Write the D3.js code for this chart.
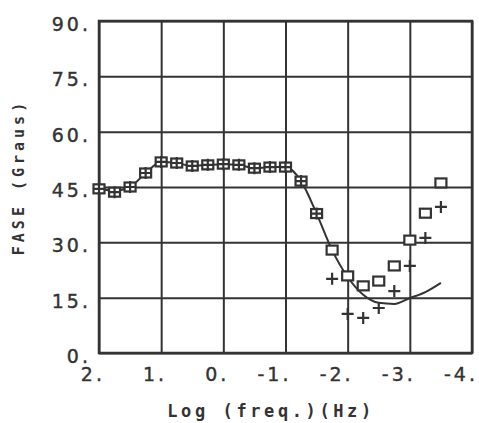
<!DOCTYPE html>
<html>
<head>
<meta charset="utf-8">
<script src="https://cdn.jsdelivr.net/npm/d3@7"></script>
<style>
  body { margin: 0; background: #fff; }
  svg { display: block; }
</style>
</head>
<body>
<script>
// log da frequencia (Hz), 4 pontos por decada
var freqs = [2, 1.75, 1.5, 1.25, 1, 0.75, 0.5, 0.25, 0, -0.25, -0.5, -0.75, -1, -1.25, -1.5, -1.75, -2, -2.25, -2.5, -2.75, -3, -3.25, -3.5];
// fase observada (quadrados)
var faseQuad = [44.5, 43.6, 45.0, 48.8, 51.8, 51.5, 50.7, 51.0, 51.2, 51.0, 50.1, 50.4, 50.4, 46.6, 37.8, 27.9, 20.9, 18.2, 19.5, 23.6, 30.6, 37.9, 46.1];
// fase observada (cruzes)
var faseCruz = [44.5, 43.6, 45.0, 48.8, 51.8, 51.5, 50.7, 51.0, 51.2, 51.0, 50.1, 50.4, 50.4, 46.6, 37.8, 20.1, 10.6, 9.5, 12.2, 16.8, 23.6, 31.2, 39.6];
// curva do modelo
var faseModelo = [44.5, 44.0, 45.0, 48.8, 51.8, 51.5, 50.7, 51.0, 51.2, 51.0, 50.1, 50.4, 50.4, 46.6, 37.8, 27.9, 20.6, 15.8, 13.6, 13.3, 14.9, 16.5, 19.0];

var xTicks = [2, 1, 0, -1, -2, -3, -4];
var yTicks = [0, 15, 30, 45, 60, 75, 90];

var W = 479, H = 423;
var ink = "#333";
var plot = {left: 99, right: 472, top: 21, bottom: 353};

var svg = d3.select("body").append("svg")
    .attr("width", W)
    .attr("height", H)
    .style("background", "#fff");

var x = d3.scaleLinear().domain([2, -4]).range([plot.left, plot.right]);
var y = d3.scaleLinear().domain([0, 90]).range([plot.bottom, plot.top]);

// grade vertical
svg.append("g")
    .attr("transform", "translate(0," + plot.bottom + ")")
    .call(d3.axisBottom(x).tickValues(xTicks).tickSize(-(plot.bottom - plot.top)).tickFormat(""))
    .call(function(g){
        g.select(".domain").remove();
        g.selectAll(".tick line").attr("stroke", ink).attr("stroke-width", 2);
    });

// grade horizontal
svg.append("g")
    .attr("transform", "translate(" + plot.left + ",0)")
    .call(d3.axisLeft(y).tickValues(yTicks).tickSize(-(plot.right - plot.left)).tickFormat(""))
    .call(function(g){
        g.select(".domain").remove();
        g.selectAll(".tick line").attr("stroke", ink).attr("stroke-width", 2);
    });

// moldura
svg.append("rect")
    .attr("x", plot.left).attr("y", plot.top)
    .attr("width", plot.right - plot.left)
    .attr("height", plot.bottom - plot.top)
    .attr("fill", "none")
    .attr("stroke", ink)
    .attr("stroke-width", 2.5);

var fonte = "'DejaVu Sans', sans-serif";
var ls = 3;

// rotulos y
svg.selectAll(".ylab").data(yTicks).enter().append("text")
    .attr("class", "ylab")
    .attr("x", 88 + ls)
    .attr("y", function(d){ return y(d) + 10; })
    .attr("text-anchor", "end")
    .attr("font-family", fonte)
    .attr("font-size", 19)
    .attr("letter-spacing", ls)
    .attr("fill", ink)
    .attr("stroke", ink)
    .attr("stroke-width", 0.4)
    .text(function(d){ return d + "."; });

// rotulos x
svg.selectAll(".xlab").data(xTicks).enter().append("text")
    .attr("class", "xlab")
    .attr("x", function(d){ return x(d) + 3 + ls; })
    .attr("y", 381)
    .attr("text-anchor", "end")
    .attr("font-family", fonte)
    .attr("font-size", 19)
    .attr("letter-spacing", ls)
    .attr("fill", ink)
    .attr("stroke", ink)
    .attr("stroke-width", 0.4)
    .text(function(d){ return d + "."; });

// titulos
svg.append("text")
    .attr("x", 271).attr("y", 417)
    .attr("text-anchor", "middle")
    .attr("font-family", "'DejaVu Sans Mono', monospace")
    .attr("font-size", 17)
    .attr("font-weight", "bold")
    .attr("letter-spacing", 3.6)
    .attr("fill", ink)
    .text("Log (freq.)(Hz)");

svg.append("text")
    .attr("transform", "translate(24,177) rotate(-90)")
    .attr("text-anchor", "middle")
    .attr("font-family", "'DejaVu Sans Mono', monospace")
    .attr("font-size", 15)
    .attr("font-weight", "bold")
    .attr("letter-spacing", 4)
    .attr("fill", ink)
    .text("FASE (Graus)");

// curva do modelo
var linha = d3.line()
    .x(function(d, i){ return x(freqs[i]); })
    .y(function(d){ return y(d); })
    .curve(d3.curveMonotoneX);

svg.append("path")
    .datum(faseModelo)
    .attr("d", linha)
    .attr("fill", "none")
    .attr("stroke", ink)
    .attr("stroke-width", 2);

// quadrados
var s = 11;
svg.selectAll(".quad").data(faseQuad).enter().append("rect")
    .attr("class", "quad")
    .attr("x", function(d, i){ return x(freqs[i]) - s / 2; })
    .attr("y", function(d){ return y(d) - s / 2 + 1; })
    .attr("width", s)
    .attr("height", s - 2)
    .attr("fill", "#fff")
    .attr("stroke", ink)
    .attr("stroke-width", 2.2);

// cruzes
var c = 6;
svg.selectAll(".cruz").data(faseCruz).enter().append("path")
    .attr("class", "cruz")
    .attr("d", function(d, i){
        var cx = x(freqs[i]), cy = y(d);
        return "M" + (cx - c) + "," + cy + "H" + (cx + c) + "M" + cx + "," + (cy - c) + "V" + (cy + c);
    })
    .attr("stroke", ink)
    .attr("stroke-width", 2.2);
</script>
</body>
</html>
